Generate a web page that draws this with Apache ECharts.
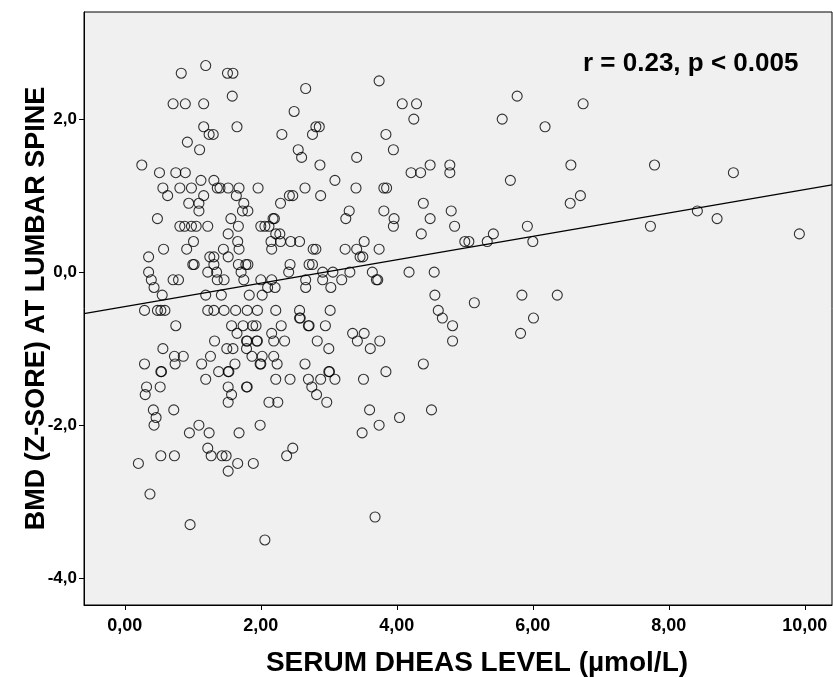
<!DOCTYPE html>
<html>
<head>
<meta charset="utf-8">
<script src="https://cdn.jsdelivr.net/npm/echarts@6/dist/echarts.min.js"></script>
<style>
  html, body { margin: 0; padding: 0; background: #fff; }
  #chart { width: 833px; height: 677px; }
</style>
</head>
<body>
<div id="chart"></div>
<script>
// serum DHEAS (µmol/L) and lumbar spine Z-score
const dheas = [
  1.19, 0.83, 0.71, 0.89, 1.16, 1.16, 1.24, 0.92, 1.10, 0.25, 0.51, 0.75, 0.89, 1.12, 0.56, 0.81, 0.98, 0.63, 1.16, 0.94, 1.09, 1.09, 0.48,
  1.51, 1.59, 2.66, 1.58, 2.49, 1.30, 1.65, 2.31, 2.76, 2.81, 2.86, 2.55, 2.60, 2.87, 1.31, 1.36, 1.40, 1.52, 1.68, 1.96, 1.64, 2.42, 2.47, 2.65, 2.88, 1.75, 2.29, 1.73, 1.81, 1.56, 2.20,
  3.74, 4.08, 4.29, 4.25, 3.84, 3.95, 3.41, 4.21, 4.35, 4.49, 4.78, 4.78, 3.09, 3.40, 3.81, 3.85, 3.30, 3.25, 3.81, 3.96, 4.39, 4.49, 4.80,
  5.77, 6.74, 5.55, 6.18, 6.56, 7.79, 8.95, 5.67, 6.70, 6.55, 8.42,
  8.71, 4.85, 5.92, 7.73, 5.42, 9.92, 5.00, 5.06, 5.33, 6.00, 5.14, 5.84, 6.36, 6.01, 5.82, 4.82, 4.82,
  3.95, 4.36, 3.52, 3.24, 3.41, 3.74, 3.46, 3.50, 2.91, 3.06, 3.31, 3.64, 4.18, 4.55, 2.91, 3.19, 3.70, 3.72, 3.03, 4.56, 4.61, 4.67, 3.02, 2.95,
  3.35, 3.52, 3.42, 3.75, 3.61, 3.00, 4.39, 3.00, 3.01, 3.09, 3.51, 3.84, 2.97, 3.60, 4.51,
  4.04, 3.74, 3.49, 3.68,
  1.52, 2.12, 2.25, 1.68, 1.99, 1.43, 1.49, 1.66, 1.52, 1.89, 2.47, 2.38, 2.06,
  0.42, 0.46, 0.43, 0.72, 0.95, 1.09, 1.24, 1.22, 1.27, 0.20, 0.53, 0.73, 0.37, 0.96,
  0.81, 0.88, 0.98, 1.05, 1.22, 1.01, 0.57, 0.91, 0.35, 1.00, 1.02, 1.25, 1.22, 0.35, 0.39, 0.43, 0.71, 0.79, 0.55, 1.19, 0.29, 0.48, 0.53, 0.59,
  1.22, 0.75, 0.56, 0.73, 0.86, 0.29, 0.74, 1.13, 0.53, 0.54, 0.32, 0.30, 0.52, 1.19,
  2.18, 1.67, 2.00, 2.06, 2.12, 2.22, 2.28, 1.52, 1.66, 2.15, 2.29, 2.44, 2.57, 1.68, 1.45, 2.16, 2.77, 2.81, 1.31, 1.52, 1.31, 1.67, 1.78, 1.81,
  2.43, 2.71, 2.76, 1.35, 1.71, 2.41, 1.36, 1.46, 1.75, 2.00, 2.16, 2.66, 2.21, 2.10, 2.66, 1.42, 1.83, 2.02, 1.31, 1.46, 1.63, 1.80, 1.95, 2.22,
  2.57, 2.57, 2.58, 2.70, 2.71, 1.57, 1.74, 1.88, 1.93, 2.30, 1.65, 2.16, 1.79, 1.80, 1.94, 1.95, 2.19, 2.35, 1.32, 2.83, 1.50, 1.59, 1.79, 1.26,
  1.87, 2.02, 2.19, 1.62, 1.99, 2.00, 2.24, 2.65, 1.38, 1.52, 1.53, 2.22, 2.43, 2.70, 2.88, 1.52, 1.79, 1.80, 2.75, 1.57, 2.82
];
const zScore = [
  2.7, 2.6, 2.2, 2.2, 2.2, 1.9, 1.8, 1.7, 1.6, 1.4, 1.3, 1.3, 1.3, 1.2, 1.1, 1.1, 1.1, 1.0, 1.0, 0.9, 0.9, 0.8, 0.7,
  2.6, 2.6, 2.4, 2.3, 2.1, 1.8, 1.9, 1.8, 1.8, 1.9, 1.9, 1.6, 1.5, 1.4, 1.2, 1.1, 1.1, 1.1, 1.1, 1.1, 1.0, 1.0, 1.0, 1.1, 1.0, 0.9, 0.9, 0.8, 0.8, 0.7, 0.7,
  2.5, 2.2, 2.2, 2.0, 1.8, 1.6, 1.5, 1.3, 1.3, 1.4, 1.4, 1.3, 1.2, 1.1, 1.1, 1.1, 0.8, 0.7, 0.8, 0.7, 0.9, 0.7, 0.8,
  2.3, 2.2, 2.0, 1.9, 1.4, 1.4, 1.3, 1.2, 1.0, 0.9, 0.8,
  0.7, 0.6, 0.6, 0.6, 0.5, 0.5, 0.4, 0.4, 0.4, 0.4, -0.4, -0.3, -0.3, -0.6, -0.8, -0.7, -0.9,
  0.6, 0.5, 0.4, 0.3, 0.3, 0.3, 0.2, 0.2, 0.0, 0.0, 0.0, 0.0, 0.0, 0.0, -0.1, -0.1, -0.1, -0.1, -0.2, -0.3, -0.5, -0.6, -0.5, -0.7,
  -0.8, -0.8, -0.9, -0.9, -1.0, -1.0, -1.2, -1.3, -1.3, -1.4, -1.4, -1.3, -1.7, -1.8, -1.8,
  -1.9, -2.0, -2.1, -3.2,
  -1.7, -1.7, -1.7, -2.1, -2.0, -2.4, -2.4, -2.5, -2.6, -2.5, -2.3, -2.4, -3.5,
  -1.8, -1.9, -2.0, -1.8, -2.1, -2.0, -2.1, -2.3, -2.4, -2.5, -2.4, -2.4, -2.9, -3.3,
  0.6, 0.6, 0.6, 0.6, 0.6, 0.4, 0.3, 0.3, 0.2, 0.1, 0.1, 0.2, 0.0, 0.0, -0.1, -0.2, -0.1, -0.1, -0.3, -0.3, -0.5, -0.5, -0.5, -0.5,
  -0.5, -0.7, -1.0, -1.1, -1.1, -1.2, -1.2, -1.2, -1.3, -1.3, -1.5, -1.6, -1.5, -1.4,
  0.7, 0.6, 0.6, 0.6, 0.6, 0.5, 0.5, 0.5, 0.4, 0.4, 0.4, 0.4, 0.4, 0.3, 0.3, 0.3, 0.3, 0.3, 0.2, 0.2, 0.1, 0.1, 0.1, 0.1,
  0.1, 0.1, 0.1, 0.0, 0.0, 0.0, -0.1, -0.1, -0.1, -0.1, -0.1, -0.1, -0.2, -0.2, -0.2, -0.3, -0.3, -0.3, -0.5, -0.5, -0.5, -0.5, -0.5, -0.5,
  -0.5, -0.6, -0.6, -0.7, -0.7, -0.7, -0.7, -0.7, -0.7, -0.7, -0.8, -0.8, -0.9, -0.9, -0.9, -0.9, -0.9, -0.9, -0.9, -0.9, -1.0, -1.0, -1.0, -1.1,
  -1.1, -1.1, -1.1, -1.2, -1.2, -1.2, -1.2, -1.2, -1.3, -1.3, -1.3, -1.4, -1.4, -1.4, -1.4, -1.5, -1.5, -1.5, -1.5, -1.6, -1.6
];

// fit line
const fitIntercept = -0.45;
const fitSlope = 0.153;
const xTicks = [0, 2, 4, 6, 8, 10];
const yTicks = [-4, -2, 0, 2];
const xRange = [-0.6, 10.4];
const yRange = [-4.35, 3.4];
const annotation = 'r = 0.23, p < 0.005';

const points = dheas.map((x, i) => [x, zScore[i]]);
const fitLine = xRange.map(x => [x, fitIntercept + fitSlope * x]);

const chart = echarts.init(document.getElementById('chart'));
const font = '"Liberation Sans", Arial, sans-serif';

chart.setOption({
    backgroundColor: '#ffffff',
    animation: false,
    grid: {
        left: 84, right: 1, top: 12, bottom: 72,
        outerBoundsMode: 'none',
        show: true, backgroundColor: '#f0f0f0', borderColor: '#000', borderWidth: 1
    },
    xAxis: {
        type: 'value', min: xRange[0], max: xRange[1],
        name: 'SERUM DHEAS LEVEL (µmol/L)', nameLocation: 'middle', nameGap: 44,
        nameMoveOverlap: false,
        nameTextStyle: { fontFamily: font, fontWeight: 'bold', fontSize: 28, color: '#000', padding: [0, 0, 0, 38] },
        axisLine: { onZero: false, lineStyle: { color: '#000', width: 1 } },
        axisTick: { show: true, length: 5, lineStyle: { color: '#000' }, customValues: xTicks },
        axisLabel: {
            customValues: xTicks, margin: 12,
            fontFamily: font, fontWeight: 'bold', fontSize: 18, color: '#000',
            formatter: v => v.toFixed(2).replace('.', ',')
        },
        splitLine: { show: false }
    },
    yAxis: {
        type: 'value', min: yRange[0], max: yRange[1],
        name: 'BMD (Z-SORE) AT LUMBAR SPINE', nameLocation: 'middle', nameGap: 34,
        nameMoveOverlap: false,
        nameTextStyle: { fontFamily: font, fontWeight: 'bold', fontSize: 27, color: '#000' },
        axisLine: { onZero: false, lineStyle: { color: '#000', width: 1 } },
        axisTick: { show: true, length: 5, lineStyle: { color: '#000' }, customValues: yTicks },
        axisLabel: {
            customValues: yTicks, margin: 7,
            fontFamily: font, fontWeight: 'bold', fontSize: 17, color: '#000',
            formatter: v => v.toFixed(1).replace('.', ',')
        },
        splitLine: { show: false }
    },
    graphic: [{
        type: 'text', x: 583, y: 64, z: 10,
        style: {
            text: annotation, fill: '#000',
            font: 'bold 26px "Liberation Sans", Arial, sans-serif',
            verticalAlign: 'middle'
        }
    }],
    series: [
        {
            type: 'scatter', data: points, symbol: 'circle', symbolSize: 10,
            itemStyle: { color: 'rgba(0,0,0,0)', borderColor: '#000', borderWidth: 1.1 }
        },
        {
            type: 'line', data: fitLine, symbol: 'none',
            lineStyle: { color: '#000', width: 1.3 }
        }
    ]
});
</script>
</body>
</html>
